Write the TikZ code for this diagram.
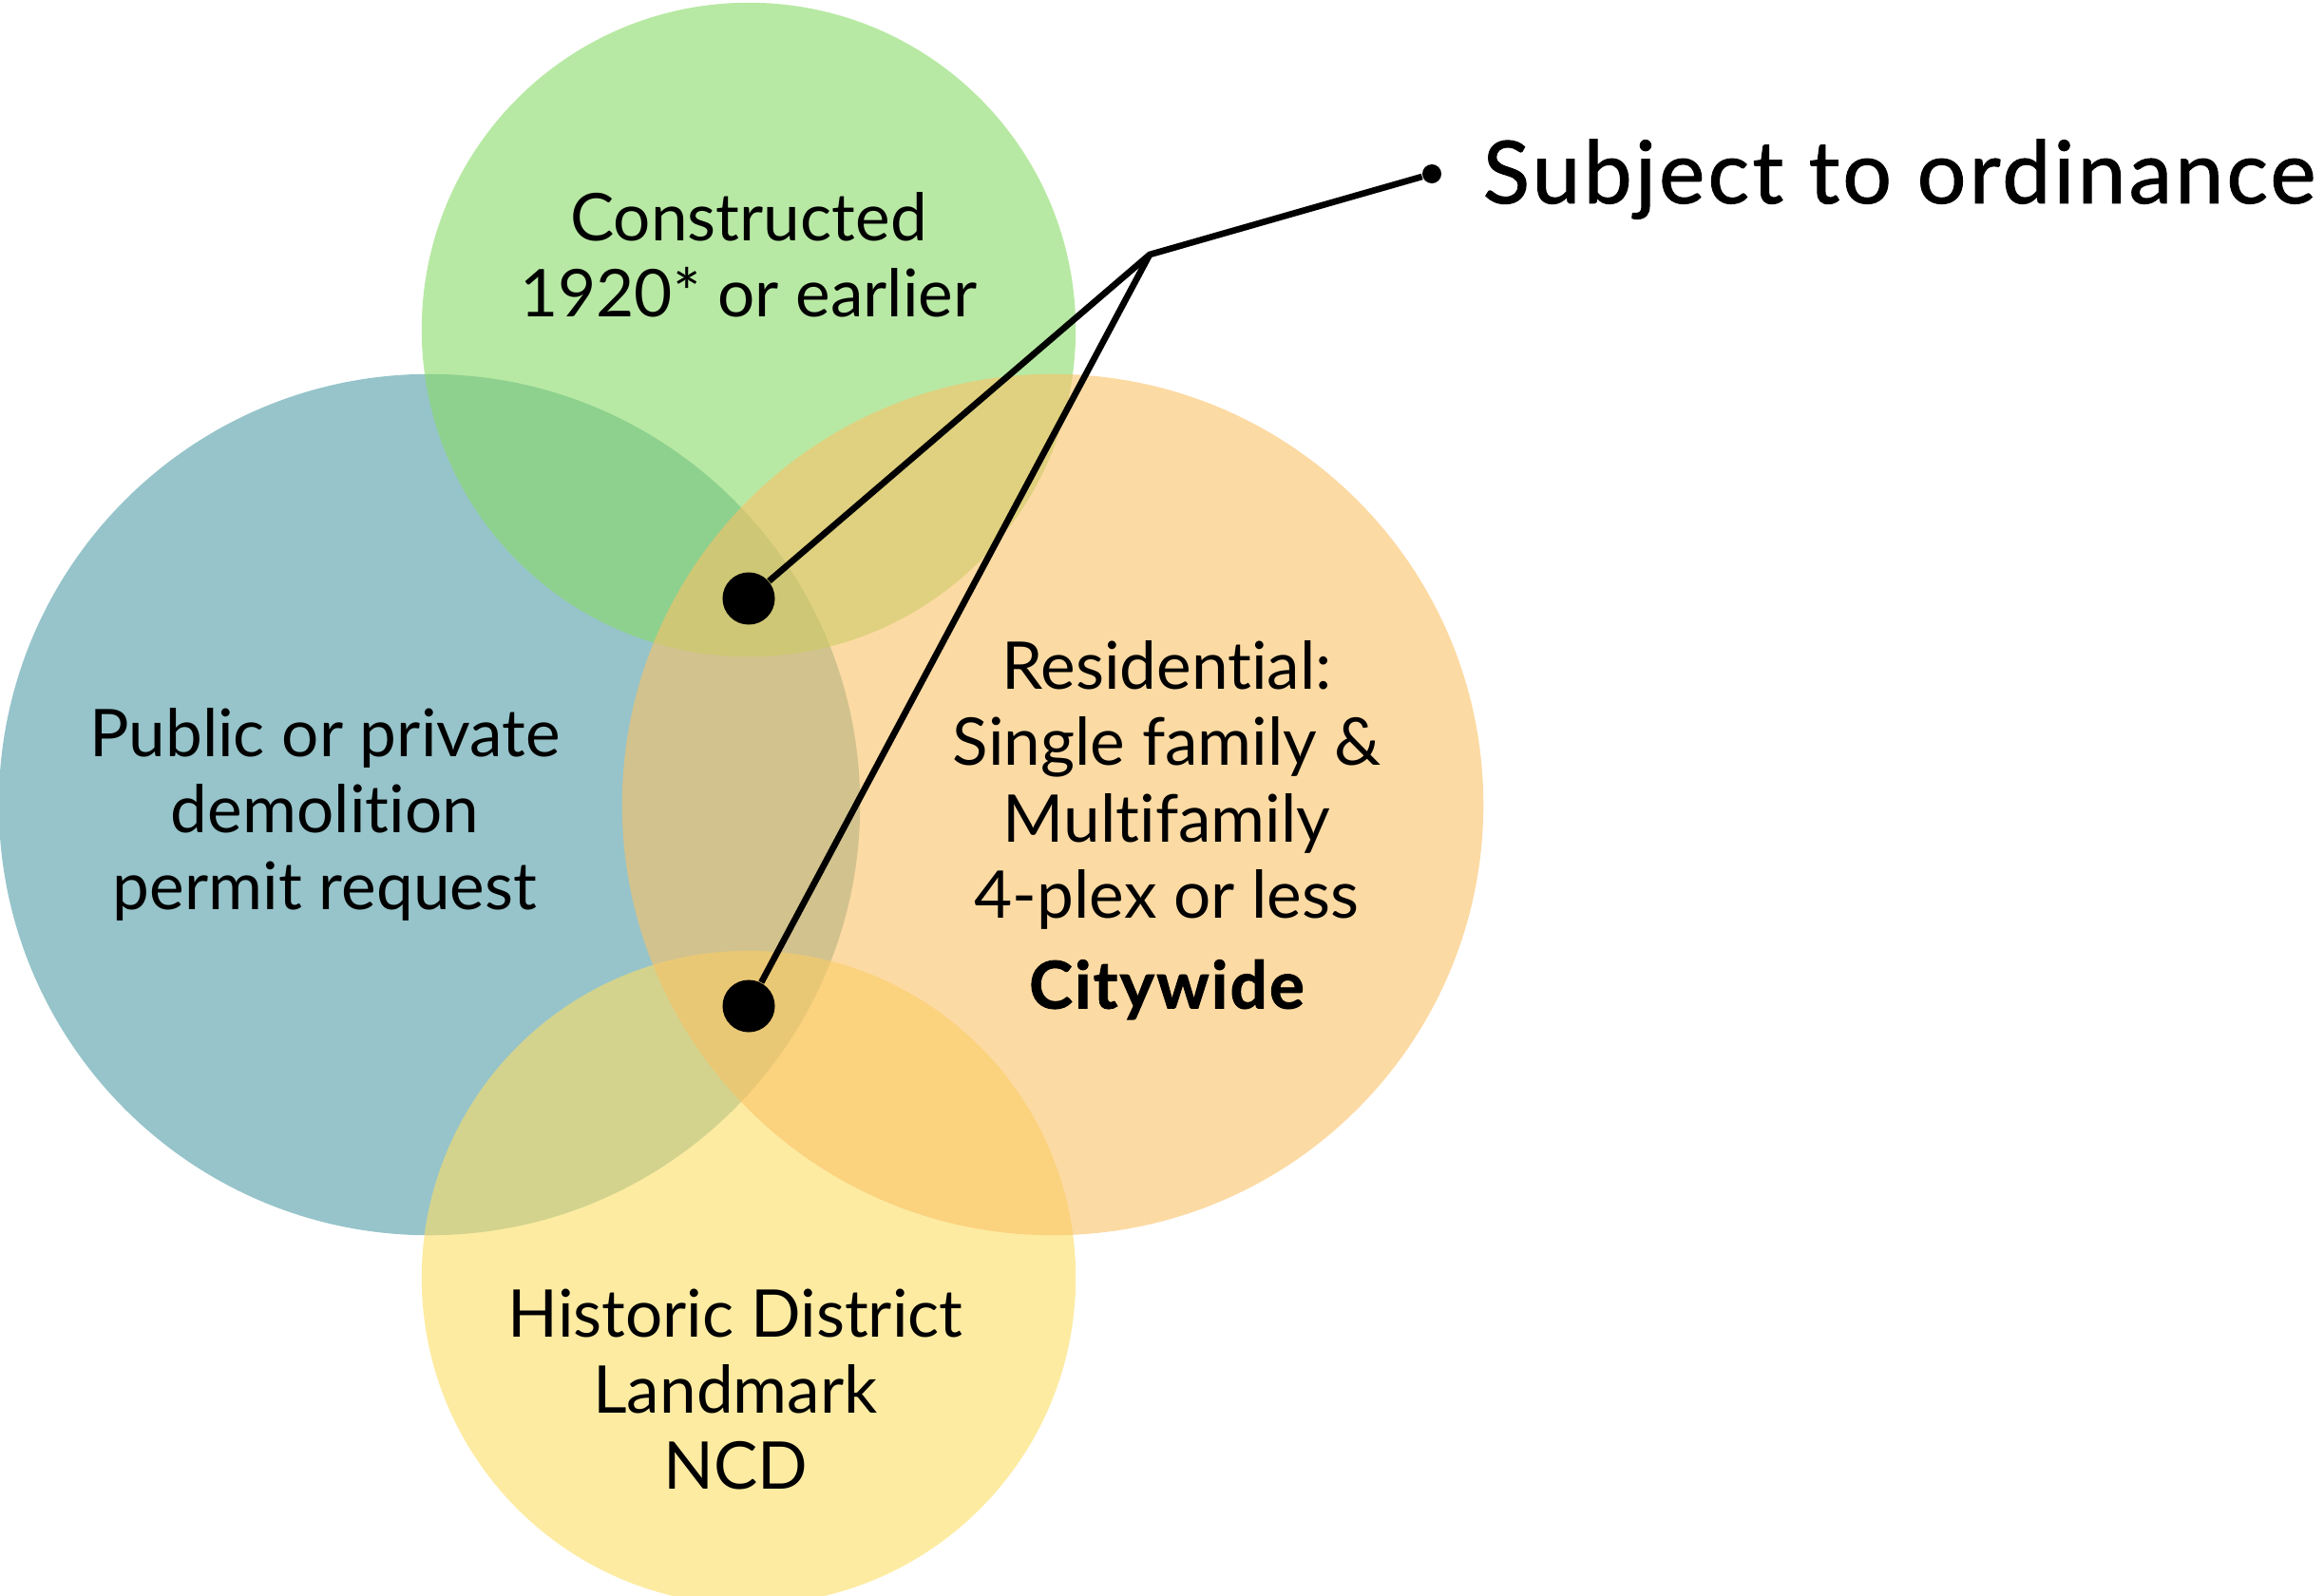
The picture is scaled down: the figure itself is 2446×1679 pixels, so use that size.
\documentclass[tikz,border=0pt]{standalone}
\usepackage{fontspec}
\setmainfont{Lato}[Ligatures=NoCommon]
\newfontfamily\medfont{Lato}[FakeBold=1, LetterSpace=3.4, Ligatures=NoCommon]
\usetikzlibrary{calc}
\definecolor{vteal}{RGB}{80,157,167}
\definecolor{vgreen}{RGB}{137,218,103}
\definecolor{vyellow}{RGB}{252,222,100}
\definecolor{vorange}{RGB}{250,193,102}
\tikzset{
  venn/.style={fill opacity=0.6},
  label/.style={anchor=north, align=center, inner sep=0pt, font=\fontsize{19.7}{22.8}\selectfont},
  dot/.style={circle, fill=black, inner sep=0pt, minimum size=0.55cm},
  tipdot/.style={circle, fill=black, inner sep=0pt, minimum size=0.2cm},
  leader/.style={line width=1.9pt, line join=round}
}
\begin{document}
\begin{tikzpicture}[x=0.01cm, y=-0.01cm]
\useasboundingbox (0,0) rectangle (2446,1679);
\fill[vteal, venn] (452,847) circle[radius=4.53cm];
\fill[vgreen, venn] (788,347) circle[radius=3.44cm];
\fill[vyellow, venn] (788,1345) circle[radius=3.44cm];
\fill[vorange, venn] (1108,847) circle[radius=4.53cm];
\node[label] (built) at (788,202) {Constructed\\1920* or earlier};
\node[label] (permit) at (342,745) {Public or private\\demolition\\permit request};
\node[label] (resid) at (1228,674) {Residential:\\Single family \&\\Multifamily\\4-plex or less\\[4.3pt]{\bfseries\addfontfeature{FakeBold=1.2, LetterSpace=3}Citywide}};
\node[label] (zone) at (774,1356) {Historic District\\Landmark\\NCD};
\node[dot] (topdot) at (788,630) {};
\node[dot] (lowdot) at (788,1059) {};
\coordinate (joint) at (1210,268);
\node[tipdot] (end) at (1507,183) {};
\draw[leader] (topdot) -- (joint) -- (end);
\draw[leader] (lowdot) -- (joint);
\node[anchor=base west, inner sep=0pt, font=\medfont\fontsize{26}{30}\selectfont] (subject) at (1560,214) {Subject to ordinance};
\end{tikzpicture}
\end{document}
